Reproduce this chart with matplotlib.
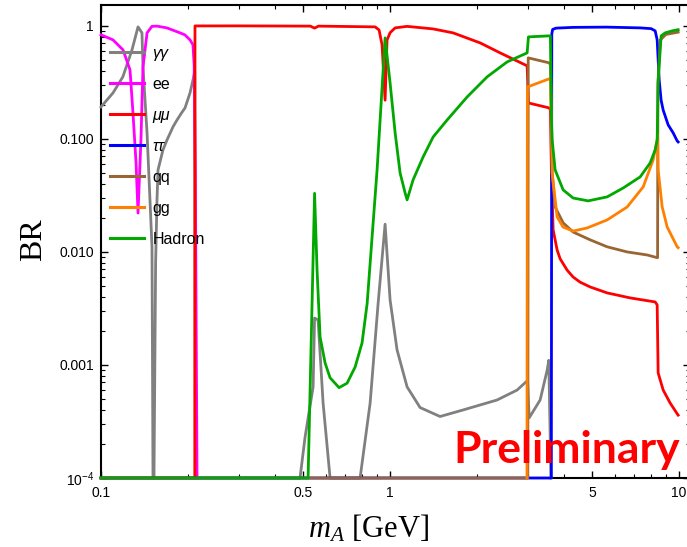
import matplotlib
matplotlib.use('Agg')
import matplotlib.pyplot as plt
from matplotlib.ticker import FixedLocator, FixedFormatter, NullFormatter

plt.rcParams['font.family'] = ['Liberation Sans', 'DejaVu Sans']
plt.rcParams['mathtext.fontset'] = 'custom'
plt.rcParams['mathtext.rm'] = 'Liberation Serif'
plt.rcParams['mathtext.it'] = 'Liberation Serif:italic'
plt.rcParams['mathtext.sf'] = 'Liberation Sans'

# m_A in GeV and branching ratios (1e-4 = sitting on the floor)
m_aa = [0.100, 0.110, 0.119, 0.128, 0.1343, 0.1386, 0.1397, 0.1443, 0.1477, 0.1501,
        0.1513, 0.1525, 0.1545, 0.1562, 0.1575, 0.1638, 0.1692, 0.1775, 0.1832, 0.190,
        0.1953, 0.2032, 0.2081, 0.2110, 0.2118, 0.488, 0.508, 0.5416, 0.548, 0.5636,
        0.5865, 0.620, 0.7875, 0.853, 0.909, 0.961, 1.000, 1.057, 1.145, 1.270,
        1.489, 1.789, 2.345, 2.751, 2.955, 2.990, 3.027, 3.304, 3.494, 3.540,
        3.600]
br_aa = [0.192, 0.255, 0.354, 0.613, 0.98, 0.867, 0.434, 0.113, 0.0289, 0.0111,
         1e-4, 1e-4, 0.008, 0.0289, 0.0532, 0.0799, 0.098, 0.128, 0.147, 0.170,
         0.188, 0.255, 0.333, 0.40, 1e-4, 1e-4, 2.3e-4, 6.4e-4, 0.0026, 0.0025,
         4.6e-4, 1e-4, 1e-4, 4.6e-4, 0.0035, 0.0176, 0.00376, 0.00136, 6.4e-4, 4.2e-4,
         3.5e-4, 4.0e-4, 4.9e-4, 6.0e-4, 7.1e-4, 7.3e-4, 3.4e-4, 4.9e-4, 9.0e-4, 1.1e-3,
         1e-4]

m_ee = [0.100, 0.110, 0.1192, 0.126, 0.129, 0.1322, 0.1343, 0.1375, 0.1397, 0.1443,
        0.150, 0.156, 0.169, 0.1877, 0.195, 0.2032, 0.208, 0.2100, 0.2120, 0.2149]
br_ee = [0.833, 0.752, 0.613, 0.408, 0.170, 0.0613, 0.0221, 0.10, 0.43, 0.867,
         0.99, 0.995, 0.96, 0.867, 0.833, 0.752, 0.679, 0.45, 0.05, 1e-4]

m_mumu = [0.100, 0.2112, 0.2114, 0.300, 0.530, 0.548, 0.565, 0.8875, 0.916, 0.938,
          0.961, 0.976, 1.000, 1.041, 1.145, 1.409, 1.652, 2.049, 2.402, 2.979,
          3.010, 3.550, 3.585, 3.615, 3.664, 3.783, 3.874, 4.097, 4.297, 4.544,
          4.92, 5.635, 6.768, 8.26, 8.392, 8.458, 8.803, 9.309, 9.842, 9.92]
br_mumu = [1e-4, 1e-4, 0.999, 1.0, 0.995, 0.955, 0.995, 0.98, 0.92, 0.68,
           0.22, 0.75, 0.87, 0.96, 0.99, 0.94, 0.867, 0.707, 0.577, 0.443,
           0.208, 0.188, 0.180, 0.05, 0.0157, 0.0104, 0.0087, 0.0069, 0.0060, 0.0054,
           0.0049, 0.00434, 0.00392, 0.00361, 0.0034, 0.00085, 0.0006, 0.00046, 0.00037, 0.00036]

m_tautau = [0.100, 3.612, 3.625, 3.65, 3.75, 4.30, 5.60, 7.33, 8.00, 8.26,
            8.392, 8.526, 8.66, 8.803, 9.161, 9.533, 9.842, 9.92]
br_tautau = [1e-4, 1e-4, 0.85, 0.93, 0.955, 0.97, 0.975, 0.96, 0.945, 0.903,
             0.752, 0.333, 0.22, 0.180, 0.133, 0.113, 0.096, 0.094]

m_qq = [0.100, 2.995, 3.005, 3.550, 3.590, 3.615, 3.636, 3.723, 3.968, 4.297,
        4.92, 5.635, 6.609, 7.75, 8.392, 8.42, 8.44, 8.60, 9.00, 9.92]
br_qq = [1e-4, 1e-4, 0.521, 0.471, 0.45, 0.15, 0.050, 0.025, 0.0181, 0.0150,
         0.0128, 0.0111, 0.0100, 0.0094, 0.0089, 0.0089, 0.3, 0.75, 0.84, 0.88]

m_gg = [2.975, 2.985, 3.550, 3.590, 3.615, 3.636, 3.783, 3.968, 4.297, 4.805,
        5.635, 6.609, 7.506, 8.128, 8.392, 8.42, 8.458, 8.734, 9.089, 9.842, 9.92]
br_gg = [1e-4, 0.288, 0.340, 0.33, 0.12, 0.050, 0.0204, 0.0166, 0.0153, 0.0163,
         0.0192, 0.025, 0.0376, 0.0652, 0.098, 0.11, 0.0532, 0.025, 0.0166, 0.0111, 0.0109]

m_had = [0.100, 0.5204, 0.548, 0.559, 0.5726, 0.596, 0.620, 0.666, 0.710, 0.757,
         0.800, 0.833, 0.8665, 0.9016, 0.961, 1.000, 1.041, 1.083, 1.127, 1.145,
         1.201, 1.301, 1.409, 1.575, 1.847, 2.166, 2.540, 2.979, 3.010, 3.550,
         3.585, 3.615, 3.636, 3.723, 3.968, 4.297, 4.843, 5.635, 6.402, 7.328,
         7.937, 8.26, 8.392, 8.458, 8.663, 8.945, 9.458, 9.842, 9.92]
br_had = [1e-4, 1e-4, 0.033, 0.0069, 0.00177, 0.00104, 0.00077, 0.00063, 0.00069, 0.00096,
          0.00157, 0.0035, 0.0136, 0.0532, 0.783, 0.313, 0.113, 0.050, 0.0333, 0.0289,
          0.0434, 0.0693, 0.104, 0.147, 0.235, 0.354, 0.480, 0.577, 0.799, 0.816,
          0.81, 0.15, 0.098, 0.0532, 0.0354, 0.030, 0.0283, 0.0307, 0.0368, 0.0461,
          0.0613, 0.080, 0.098, 0.33, 0.816, 0.867, 0.903, 0.922, 0.925]

channels = [
    ('γγ', m_aa, br_aa, '#808080'),
    ('ee', m_ee, br_ee, '#FF00FF'),
    ('μμ', m_mumu, br_mumu, '#FF0000'),
    ('ττ', m_tautau, br_tautau, '#0000FF'),
    ('qq', m_qq, br_qq, '#996633'),
    ('gg', m_gg, br_gg, '#FF8000'),
    ('Hadron', m_had, br_had, '#00A800'),
]

fig = plt.figure(figsize=(6.87, 5.47), dpi=100)
ax = fig.add_axes([101 / 687, 69 / 547, 589 / 687, 473 / 547])

for name, m, br, col in channels:
    ax.plot(m, br, color=col, lw=2.0, label=name, clip_on=False, zorder=3,
            solid_joinstyle='round')

ax.set_xscale('log')
ax.set_yscale('log')
ax.set_xlim(0.1, 10.9)
ax.set_ylim(1e-4, 1.53)

ax.xaxis.set_major_locator(FixedLocator([0.1, 0.5, 1, 5, 10]))
ax.xaxis.set_major_formatter(FixedFormatter(['0.1', '0.5', '1', '5', '10']))
ax.xaxis.set_minor_locator(FixedLocator([0.2, 0.3, 0.4, 0.6, 0.7, 0.8, 0.9,
                                         2, 3, 4, 6, 7, 8, 9]))
ax.xaxis.set_minor_formatter(NullFormatter())

ax.yaxis.set_major_locator(FixedLocator([1e-4, 1e-3, 1e-2, 1e-1, 1]))
ax.yaxis.set_major_formatter(FixedFormatter([r'$\mathsf{10^{-4}}$', '0.001', '0.010', '0.100', '1']))
ax.yaxis.set_minor_locator(FixedLocator([k * 10.0 ** e for e in range(-4, 0) for k in range(2, 10)]))
ax.yaxis.set_minor_formatter(NullFormatter())

ax.tick_params(which='both', direction='in', top=True, right=True, labelsize=10, color='black')
ax.tick_params(which='major', length=5, width=1.0)
ax.tick_params(which='minor', length=3, width=0.8)
ax.tick_params(axis='y', pad=5)
ax.tick_params(axis='x', pad=6)
for s in ['left', 'bottom', 'top']:
    ax.spines[s].set_linewidth(1.5)
ax.spines['right'].set_visible(False)

ax.set_xlabel(r'$m_A$ [GeV]', fontsize=22, family='Liberation Serif')
ax.set_ylabel('BR', fontsize=23, family='Liberation Serif')
ax.xaxis.set_label_coords(0.455, -0.075)
ax.yaxis.set_label_coords(-0.09, 0.503)

leg = ax.legend(loc='upper left', bbox_to_anchor=(0.0153, 0.914), frameon=False,
                fontsize=11.5, handlelength=2.1, handletextpad=0.55, labelspacing=1.0,
                borderpad=0, borderaxespad=0)
for t in leg.get_texts():
    if t.get_text() in ('γγ', 'μμ', 'ττ'):
        t.set_fontstyle('italic')
for h in leg.get_lines():
    h.set_linewidth(2.2)

ax.text(0.983, 0.0317, 'Preliminary', transform=ax.transAxes, ha='right', va='baseline',
        color='#FF0000', fontsize=32, fontweight='bold', family='Lato', zorder=4)

fig.savefig('out.png', dpi=100)
